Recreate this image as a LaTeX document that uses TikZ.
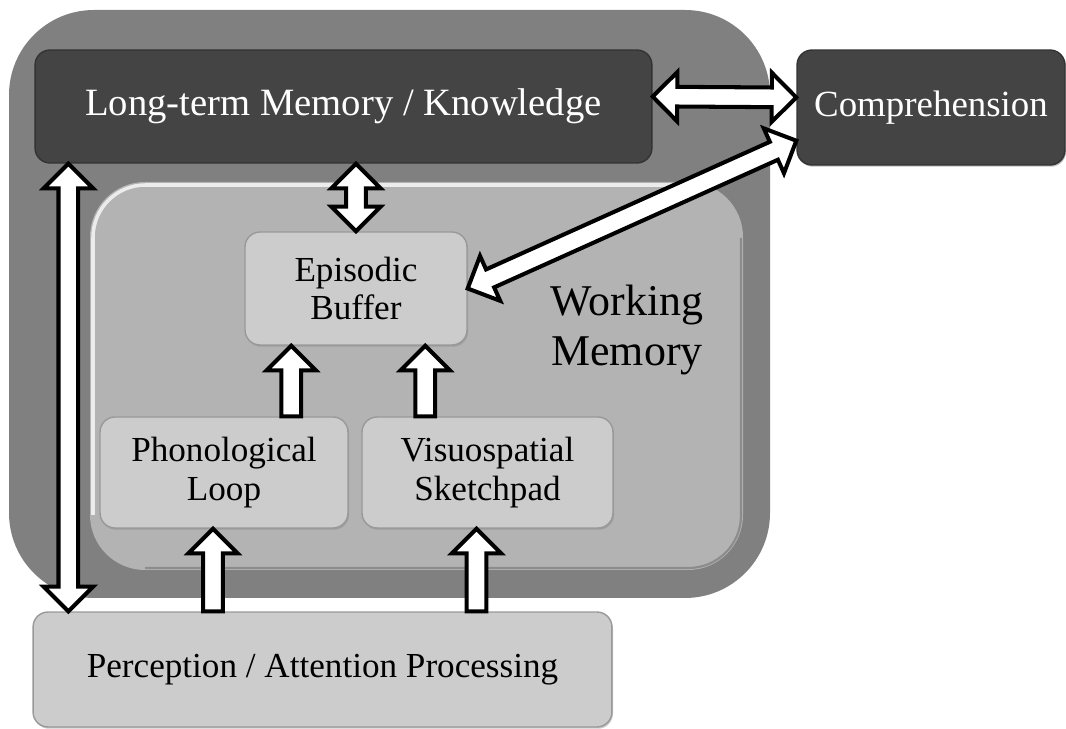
\documentclass[tikz,border=0pt]{standalone}
\usepackage{fontspec}
\setmainfont{Liberation Serif}
\usetikzlibrary{calc,shadows}

\definecolor{outergray}{HTML}{808080}
\definecolor{darkbox}{HTML}{444444}
\definecolor{wmgray}{HTML}{B3B3B3}
\definecolor{lightbox}{HTML}{CCCCCC}

\tikzset{
  darkblock/.style={draw=black!80, fill=darkbox, rounded corners=0.3cm, text=white,
    line width=0.8pt, drop shadow={shadow xshift=0.6pt, shadow yshift=-1pt, opacity=0.5},
    font=\fontsize{21}{25}\selectfont},
  lightblock/.style={draw=black!40, fill=lightbox, rounded corners=0.3cm, align=center,
    line width=0.8pt, drop shadow={shadow xshift=0.6pt, shadow yshift=-1pt, opacity=0.4},
    font=\fontsize{20}{22}\selectfont},
  uparrow/.style={draw=black, fill=white, line width=2.3pt,
    to path={let \p1=(\tikztostart), \p2=(\tikztotarget),
      \n1={atan2(\y2-\y1,\x2-\x1)}, \n2={veclen(\x2-\x1,\y2-\y1)} in
      ([shift={(\p1)},rotate=\n1]0pt,-5.6pt)
      -- ([shift={(\p1)},rotate=\n1]{\n2*1pt-14pt},-5.6pt)
      -- ([shift={(\p1)},rotate=\n1]{\n2*1pt-14pt},-14pt)
      -- ([shift={(\p1)},rotate=\n1]{\n2*1pt},0pt)
      -- ([shift={(\p1)},rotate=\n1]{\n2*1pt-14pt},14pt)
      -- ([shift={(\p1)},rotate=\n1]{\n2*1pt-14pt},5.6pt)
      -- ([shift={(\p1)},rotate=\n1]0pt,5.6pt) -- cycle}},
  dblarrow/.style={draw=black, fill=white, line width=2.3pt,
    to path={let \p1=(\tikztostart), \p2=(\tikztotarget),
      \n1={atan2(\y2-\y1,\x2-\x1)}, \n2={veclen(\x2-\x1,\y2-\y1)} in
      ([shift={(\p1)},rotate=\n1]0pt,0pt)
      -- ([shift={(\p1)},rotate=\n1]14pt,-14pt)
      -- ([shift={(\p1)},rotate=\n1]14pt,-5.6pt)
      -- ([shift={(\p1)},rotate=\n1]{\n2*1pt-14pt},-5.6pt)
      -- ([shift={(\p1)},rotate=\n1]{\n2*1pt-14pt},-14pt)
      -- ([shift={(\p1)},rotate=\n1]{\n2*1pt},0pt)
      -- ([shift={(\p1)},rotate=\n1]{\n2*1pt-14pt},14pt)
      -- ([shift={(\p1)},rotate=\n1]{\n2*1pt-14pt},5.6pt)
      -- ([shift={(\p1)},rotate=\n1]14pt,5.6pt)
      -- ([shift={(\p1)},rotate=\n1]14pt,14pt) -- cycle}},
}

\begin{document}
\begin{tikzpicture}[x=0.02cm, y=-0.02cm]
  \useasboundingbox (0,0) rectangle (1066,729);

  % containers
  \fill[outergray, rounded corners=1.7cm] (9,10) rectangle (770,598);
  \fill[wmgray, rounded corners=1.1cm] (90,182) rectangle (743,570);
  % bevel edges of the working memory box
  \draw[white!75!wmgray, line width=2pt, rounded corners=1.05cm] (93,515) -- (93,185) -- (688,185);
  \draw[black!45, line width=1.2pt, rounded corners=1.05cm] (741,238) -- (741,568) -- (145,568);

  % blocks
  \node[darkblock, minimum width=12.34cm, minimum height=2.26cm,
        font=\fontsize{22}{26}\selectfont] (ltm) at (343.5,106.5) {Long-term Memory / Knowledge};
  \node[darkblock, minimum width=5.36cm, minimum height=2.3cm] (comp) at (931,107.5) {Comprehension};
  \node[lightblock, minimum width=4.44cm, minimum height=2.26cm] (ep) at (356,288.5) {Episodic\\Buffer};
  \node[lightblock, minimum width=4.96cm, minimum height=2.22cm] (phon) at (224,472.5) {Phonological\\Loop};
  \node[lightblock, minimum width=5.02cm, minimum height=2.22cm] (vis) at (487.5,472.5) {Visuospatial\\Sketchpad};
  \node[lightblock, minimum width=11.58cm, minimum height=2.3cm] (perc) at (322.5,669.5) {Perception / Attention Processing};
  \node[align=center, font=\fontsize{25}{28.5}\selectfont] (wm) at (627,330) {Working\\Memory};

  % block arrows
  \coordinate (epl) at ($(ep.south)!0.58!(ep.south west)$);
  \coordinate (epr) at ($(ep.south)!0.62!(ep.south east)$);

  \path[dblarrow] ([yshift=0.2cm]ltm.east) to ([yshift=0.2cm]comp.west);
  \path[dblarrow] (ltm.south -| ep.north) to (ep.north);
  \path[dblarrow] (ep.east) to ([yshift=0.5cm]comp.south west);
  \path[dblarrow] ($(ltm.south west)+(34,0)$) to ($(perc.north west)+(36,0)$);
  \path[uparrow] (epl |- phon.north) to (epl);
  \path[uparrow] (epr |- vis.north) to (epr);
  \path[uparrow] ($(perc.north -| phon.south)+(-11,0)$) to ($(phon.south)+(-11,0)$);
  \path[uparrow] ($(perc.north -| vis.south)+(-11,0)$) to ($(vis.south)+(-11,0)$);
\end{tikzpicture}
\end{document}
